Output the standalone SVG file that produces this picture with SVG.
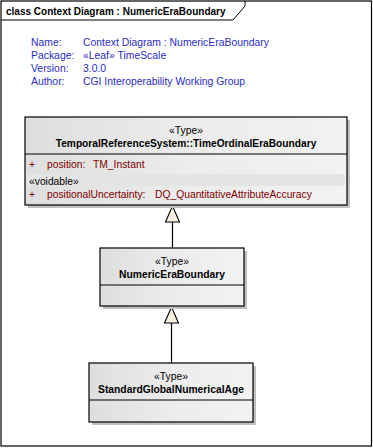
<svg xmlns="http://www.w3.org/2000/svg" width="373" height="448" viewBox="0 0 373 448">
  <style>
    .t { font-family: "Liberation Sans", Arial, sans-serif; font-size: 10.3px; }
    .b { font-weight: bold; }
    .title { font-size: 10px; }
    .name { font-size: 10.2px; }
    .info { fill: #2b2bbf; font-size: 10.4px; }
    .attr { fill: #800000; }
    .box { fill: url(#cls); stroke: #000; stroke-width: 1.2; }
    .shadow { fill: #c0c0c0; }
    .sep { stroke: #000; stroke-width: 1; }
    .conn { stroke: #000; stroke-width: 1.2; fill: none; }
    .head { fill: #fbf1e2; stroke: #000; stroke-width: 1.1; }
  </style>
  <defs>
    <linearGradient id="cls" x1="0" y1="0" x2="1" y2="0">
      <stop offset="0" stop-color="#dedede"/>
      <stop offset="0.5" stop-color="#ececec"/>
      <stop offset="1" stop-color="#f2f2f2"/>
    </linearGradient>
  </defs>

  <!-- frame -->
  <rect x="0" y="0" width="373" height="448" fill="#fff"/>
  <rect x="1" y="1" width="370.5" height="445" fill="none" stroke="#000" stroke-width="1.2"/>
  <path d="M1,20 L233,20 L245,6 L245,1" fill="none" stroke="#000" stroke-width="1"/>
  <text class="t b title" x="6" y="15">class Context Diagram : NumericEraBoundary</text>

  <!-- diagram properties -->
  <g id="info" class="t info">
    <text x="31" y="46">Name:</text>
    <text x="83" y="46">Context Diagram : NumericEraBoundary</text>
    <text x="31" y="59">Package:</text>
    <text x="83" y="59">«Leaf» TimeScale</text>
    <text x="31" y="72">Version:</text>
    <text x="83" y="72">3.0.0</text>
    <text x="31" y="85">Author:</text>
    <text x="83" y="85">CGI Interoperability Working Group</text>
  </g>

  <!-- generalization connectors -->
  <g id="connectors">
    <line class="conn" x1="172.5" y1="248" x2="172.5" y2="222"/>
    <path class="head" d="M172.5,206 L179.5,222 L165.5,222 Z"/>
    <line class="conn" x1="171.5" y1="363" x2="171.5" y2="323"/>
    <path class="head" d="M171.5,307 L178.5,323 L164.5,323 Z"/>
  </g>

  <!-- TimeOrdinalEraBoundary -->
  <g id="TimeOrdinalEraBoundary">
    <rect class="shadow" x="28" y="120" width="322" height="88"/>
    <rect class="box" x="25" y="117" width="322" height="88"/>
    <line class="sep" x1="25" y1="154" x2="347" y2="154"/>
    <rect x="27" y="174" width="318" height="12" fill="#e4e4e4"/>
    <text class="t" x="186" y="134" text-anchor="middle">«Type»</text>
    <text class="t b name" x="186" y="147" text-anchor="middle">TemporalReferenceSystem::TimeOrdinalEraBoundary</text>
    <text class="t attr" x="29" y="168">+</text>
    <text class="t attr" x="47" y="168">position:</text>
    <text class="t attr" x="93" y="168">TM_Instant</text>
    <text class="t" x="29" y="185">«voidable»</text>
    <text class="t attr" x="29" y="198">+</text>
    <text class="t attr" x="47" y="198">positionalUncertainty:</text>
    <text class="t attr" x="155" y="198">DQ_QuantitativeAttributeAccuracy</text>
  </g>

  <!-- NumericEraBoundary -->
  <g id="NumericEraBoundary">
    <rect class="shadow" x="103" y="251" width="144" height="58"/>
    <rect class="box" x="100" y="248" width="144" height="58"/>
    <line class="sep" x1="100" y1="285" x2="244" y2="285"/>
    <text class="t" x="172" y="265" text-anchor="middle">«Type»</text>
    <text class="t b" x="172" y="278" text-anchor="middle">NumericEraBoundary</text>
  </g>

  <!-- StandardGlobalNumericalAge -->
  <g id="StandardGlobalNumericalAge">
    <rect class="shadow" x="92" y="366" width="164" height="59"/>
    <rect class="box" x="89" y="363" width="164" height="59"/>
    <line class="sep" x1="89" y1="400" x2="253" y2="400"/>
    <text class="t" x="171" y="380" text-anchor="middle">«Type»</text>
    <text class="t b" x="171" y="393" text-anchor="middle">StandardGlobalNumericalAge</text>
  </g>
</svg>
